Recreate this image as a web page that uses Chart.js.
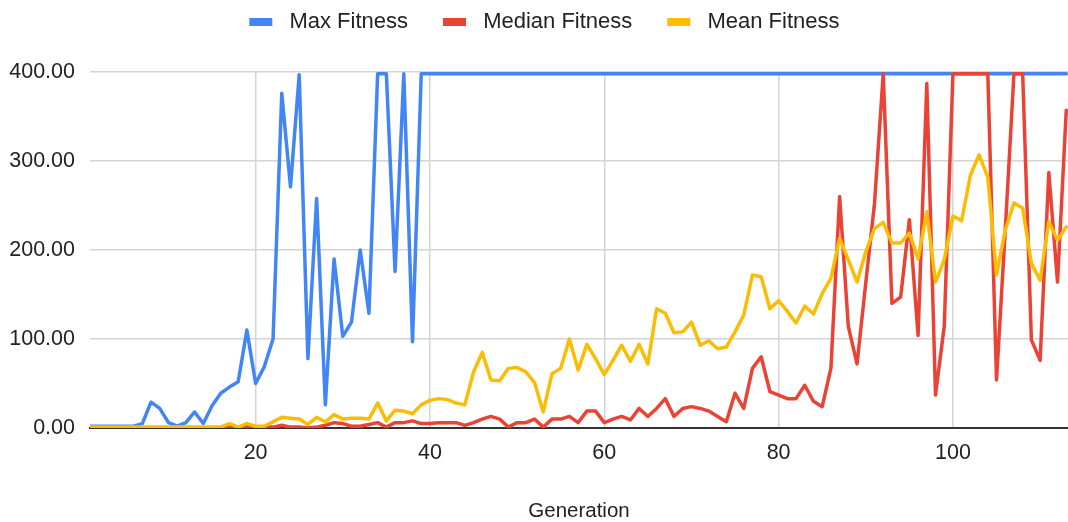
<!DOCTYPE html>
<html>
<head>
<meta charset="utf-8">
<script src="https://cdn.jsdelivr.net/npm/chart.js@4.4.1/dist/chart.umd.min.js"></script>
<style>
  html, body { margin: 0; padding: 0; background: #ffffff; }
  #wrap { width: 1068px; height: 522px; }
</style>
</head>
<body>
<div id="wrap"><canvas id="c" width="1068" height="522"></canvas></div>
<script>
const generations = [1,2,3,4,5,6,7,8,9,10,11,12,13,14,15,16,17,18,19,20,21,22,23,24,25,26,27,28,29,30,31,32,33,34,35,36,37,38,39,40,41,42,43,44,45,46,47,48,49,50,51,52,53,54,55,56,57,58,59,60,61,62,63,64,65,66,67,68,69,70,71,72,73,74,75,76,77,78,79,80,81,82,83,84,85,86,87,88,89,90,91,92,93,94,95,96,97,98,99,100,101,102,103,104,105,106,107,108,109,110,111,112,113];

const maxFitness = [2,2,2,2,2,2,5,29,22,6,2,6,18,5,25,39,46,52,110,50,69,100,376,271,397,78,258,26,190,103,119,200,129,398,398,176,398,97,398,398,398,398,398,398,398,398,398,398,398,398,398,398,398,398,398,398,398,398,398,398,398,398,398,398,398,398,398,398,398,398,398,398,398,398,398,398,398,398,398,398,398,398,398,398,398,398,398,398,398,398,398,398,398,398,398,398,398,398,398,398,398,398,398,398,398,398,398,398,398,398,398,398,398];

const medianFitness = [0,0,0,0,0,0,0,0,0,0,0,0,0,0,0,0,1,0,2,0,1,1,3,1,1,0,1,3,6,5,2,2,4,6,1,6,6,8,5,5,6,6,6,3,6,10,13,10,1,6,6,10,1,10,10,13,6,19,19,6,10,13,9,22,13,22,33,13,22,24,22,19,13,7,39,22,67,80,41,37,33,33,48,30,24,67,260,114,72,163,252,398,140,147,234,104,387,37,114,398,398,398,398,398,54,222,398,398,99,76,287,164,357];

const meanFitness = [1,1,1,1,1,1,1,1,1,1,1,1,1,1,1,1,5,1,5,2,2,7,12,11,10,4,12,7,15,10,11,11,10,28,8,20,19,16,26,31,33,32,28,26,63,85,54,53,67,68,63,51,18,61,67,100,65,94,78,60,76,93,75,94,72,134,129,107,108,119,93,98,89,91,108,127,172,170,134,143,131,118,137,128,151,168,213,189,164,198,224,231,208,208,219,190,243,164,189,238,233,284,307,282,172,222,253,247,185,166,232,211,226];

const xTickValues = [20, 40, 60, 80, 100];
const yTickValues = [0, 100, 200, 300, 400];

const seriesNames = ['Max Fitness', 'Median Fitness', 'Mean Fitness'];
const seriesColors = ['#4285F4', '#EA4335', '#FBBC04'];

const FONT = "'Liberation Sans', Arial, sans-serif";

const legendSpacer = {
  id: 'legendSpacer',
  beforeUpdate(chart) {
    const lg = chart.legend;
    if (lg && !lg._spacerPatched) {
      const origFit = lg.fit;
      lg.fit = function () {
        origFit.call(this);
        this.height = 96;
      };
      lg._spacerPatched = true;
    }
  },
  afterLayout(chart) {
    const lg = chart.legend;
    if (lg) {
      lg.left += 10.4;
      lg.right += 10.4;
    }
  }
};

function makeDataset(i, values, order) {
  return {
    label: seriesNames[i],
    data: values,
    borderColor: seriesColors[i],
    backgroundColor: seriesColors[i],
    borderWidth: 3.5,
    pointRadius: 0,
    pointHoverRadius: 0,
    tension: 0,
    fill: false,
    borderJoinStyle: 'round',
    borderCapStyle: 'round',
    order: order
  };
}

new Chart(document.getElementById('c'), {
  type: 'line',
  data: {
    labels: generations,
    datasets: [
      makeDataset(0, maxFitness, 2),
      makeDataset(1, medianFitness, 1),
      makeDataset(2, meanFitness, 0)
    ]
  },
  options: {
    responsive: false,
    animation: false,
    devicePixelRatio: 1,
    layout: { padding: { top: -24, left: 0, right: 0, bottom: 0 } },
    plugins: {
      tooltip: { enabled: false },
      legend: {
        position: 'top',
        align: 'center',
        labels: {
          boxWidth: 23,
          boxHeight: 8,
          padding: 35,
          color: '#222222',
          font: { family: FONT, size: 22 },
          generateLabels(chart) {
            const items = Chart.defaults.plugins.legend.labels.generateLabels(chart);
            items.sort((a, b) => a.datasetIndex - b.datasetIndex);
            return items.map(it => Object.assign(it, {
              text: ' ' + it.text,
              lineWidth: 0,
              fillStyle: seriesColors[it.datasetIndex],
              strokeStyle: seriesColors[it.datasetIndex]
            }));
          }
        }
      }
    },
    scales: {
      x: {
        type: 'linear',
        min: 1,
        max: 113.2,
        afterBuildTicks(scale) {
          scale.ticks = xTickValues.map(v => ({ value: v }));
        },
        afterFit(scale) { scale.height = 94; },
        ticks: {
          color: '#222222',
          font: { family: FONT, size: 21.5 },
          padding: 12,
          maxRotation: 0,
          autoSkip: false,
          callback: v => String(v)
        },
        grid: {
          color: '#d4d4d4',
          lineWidth: 1.5,
          drawTicks: false
        },
        border: { display: true, color: '#333333', width: 2 },
        title: {
          display: true,
          text: 'Generation',
          color: '#222222',
          font: { family: FONT, size: 20.5, lineHeight: 1 },
          padding: { top: 0, bottom: 0 }
        }
      },
      y: {
        min: 0,
        max: 400,
        afterBuildTicks(scale) {
          scale.ticks = yTickValues.map(v => ({ value: v }));
        },
        afterFit(scale) { scale.width = 90; },
        ticks: {
          color: '#222222',
          font: { family: FONT, size: 21.5 },
          padding: 15,
          callback: v => Number(v).toFixed(2)
        },
        grid: {
          color: '#d4d4d4',
          lineWidth: 1.5,
          drawTicks: false
        },
        border: { display: false }
      }
    }
  },
  plugins: [legendSpacer]
});
</script>
</body>
</html>
